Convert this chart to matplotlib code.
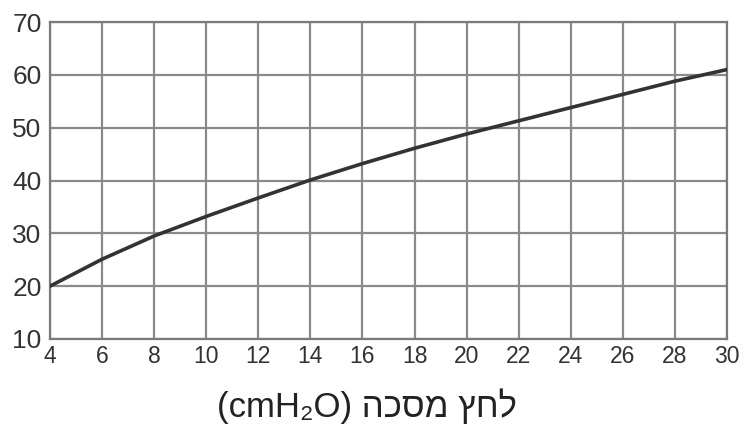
import numpy as np
import matplotlib.pyplot as plt

pressure = [4, 6, 8, 10, 12, 14, 16, 18, 20, 22, 24, 26, 28, 30]
flow = [20, 25.1, 29.5, 33.2, 36.7, 40.1, 43.2, 46.1, 48.8, 51.3, 53.8, 56.3, 58.8, 61]
xticks = list(range(4, 31, 2))
yticks = list(range(10, 71, 10))
xlabel_he = 'לחץ מסכה'

fonts = ['Liberation Sans Narrow', 'Liberation Sans', 'DejaVu Sans']

fig = plt.figure(figsize=(7.45, 4.26), dpi=100)
ax = fig.add_axes([50/745, 1-339/426, 677/745, 317/426])

ax.plot(pressure, flow, color='#333333', lw=2.6, solid_capstyle='round', zorder=3)

ax.set_xlim(4, 30)
ax.set_ylim(10, 70)
ax.set_xticks(xticks)
ax.set_yticks(yticks)
ax.grid(True, color='#8a8a8a', lw=1.6)
for s in ax.spines.values():
    s.set_color('#7a7a7a')
    s.set_linewidth(1.6)
ax.tick_params(length=0, colors='#333333')
ax.tick_params(axis='x', labelsize=16.5, pad=4)
ax.tick_params(axis='y', labelsize=19, pad=6)
for lab in ax.get_xticklabels() + ax.get_yticklabels():
    lab.set_family(fonts)

# matplotlib has no bidi support, so the Hebrew part is put in visual order
fig.text(367/745, 1-417/426, '(cmH₂O) ' + xlabel_he[::-1], ha='center', va='baseline',
         fontsize=25, color='#222222', family=fonts)

fig.savefig('out.png', dpi=100)
